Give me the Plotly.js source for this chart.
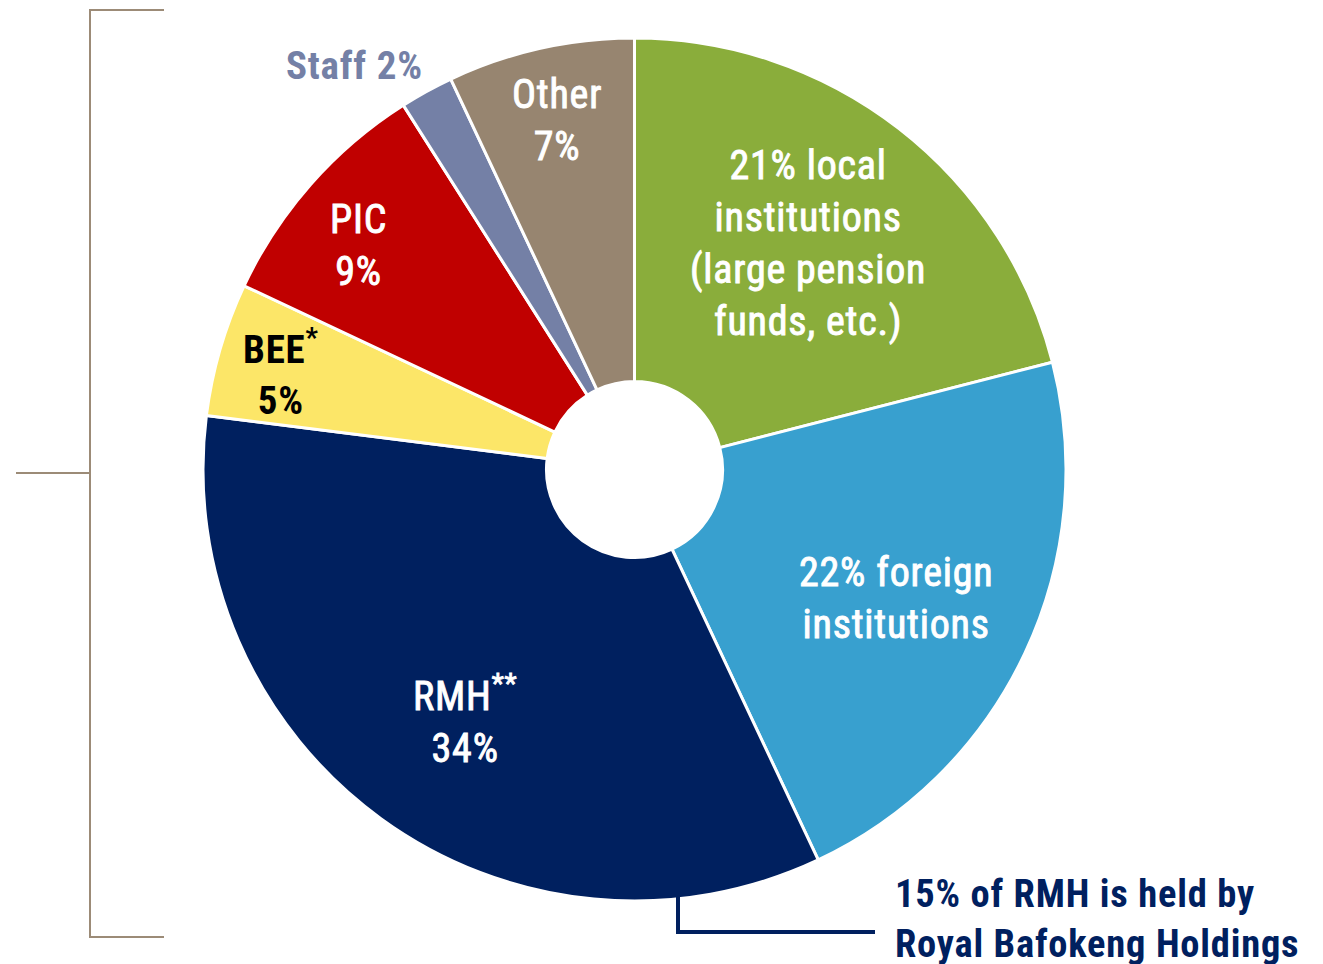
<!DOCTYPE html>
<html>
<head>
<meta charset="utf-8">
<script src="https://cdn.plot.ly/plotly-3.0.1.min.js"></script>
<style>html,body{margin:0;padding:0;background:#fff;}#chart{width:1323px;height:964px;}
.annotation-text{letter-spacing:0.8px;}
g.annotation[data-index="0"] text, g.annotation[data-index="1"] text,
g.annotation[data-index="2"] text, g.annotation[data-index="4"] text,
g.annotation[data-index="6"] text{stroke:#FFFFFF;stroke-width:0.9px;}</style>
</head>
<body>
<div id="chart"></div>
<script>
// ---- data ----
const categories = ["Local institutions", "Foreign institutions", "RMH", "BEE", "PIC", "Staff", "Other"];
const shares = [21, 22, 34, 5, 9, 2, 7];
const sliceColors = ["#8AAD3B", "#38A0CF", "#00205F", "#FCE668", "#C00000", "#7480A6", "#978570"];
const labelTexts = [
  "21% local<br>institutions<br>(large pension<br>funds, etc.)",
  "22% foreign<br>institutions",
  "RMH<sup>**</sup><br>34%",
  "BEE<sup>*</sup><br>5%",
  "PIC<br>9%",
  "Staff 2%",
  "Other<br>7%"
];
const noteText = "15% of RMH is held by<br>Royal Bafokeng Holdings";

// ---- layout helpers ----
const W = 1323, H = 964;
const FONT = "'Liberation Sans Narrow', 'Arial Narrow', 'Roboto Condensed', 'Liberation Sans', sans-serif";
const px = x => x / W;
const py = y => 1 - y / H;

// label placements (pixel centres), colours, weights
const labelPos = [[808, 243], [896, 598], [465, 719], [281, 373], [358, 245], [355, 66], [557, 120]];
const labelColor = ["#FFFFFF", "#FFFFFF", "#FFFFFF", "#000000", "#FFFFFF", "#7480A6", "#FFFFFF"];
const labelWeight = [400, 400, 400, 700, 400, 700, 400];

const annotations = labelTexts.map((t, i) => ({
  text: t,
  xref: "paper", yref: "paper",
  x: px(labelPos[i][0]), y: py(labelPos[i][1]),
  xanchor: "center", yanchor: "middle",
  showarrow: false,
  align: "center",
  font: { family: FONT, size: labelWeight[i] === 700 ? 39 : 40, color: labelColor[i], weight: labelWeight[i] }
}));
annotations.push({
  text: noteText,
  xref: "paper", yref: "paper",
  x: px(893), y: py(918),
  xanchor: "left", yanchor: "middle",
  showarrow: false, align: "left",
  font: { family: FONT, size: 38.5, color: "#00205F", weight: 700 }
});

const bracket = "#9C8B77";
const shapes = [
  { type: "line", xref: "paper", yref: "paper", x0: px(90), x1: px(90), y0: py(10), y1: py(937), line: { color: bracket, width: 2 } },
  { type: "line", xref: "paper", yref: "paper", x0: px(89), x1: px(164), y0: py(10), y1: py(10), line: { color: bracket, width: 2 } },
  { type: "line", xref: "paper", yref: "paper", x0: px(89), x1: px(164), y0: py(937), y1: py(937), line: { color: bracket, width: 2 } },
  { type: "line", xref: "paper", yref: "paper", x0: px(16), x1: px(91), y0: py(473), y1: py(473), line: { color: bracket, width: 2 } },
  { type: "path", xref: "paper", yref: "paper",
    path: `M ${px(678)} ${py(893)} L ${px(678)} ${py(932)} L ${px(875)} ${py(932)}`,
    line: { color: "#00205F", width: 4 } }
];

const trace = {
  type: "pie",
  labels: categories,
  values: shares,
  sort: false,
  direction: "clockwise",
  rotation: 0,
  hole: 0.204,
  textinfo: "none",
  hoverinfo: "none",
  marker: { colors: sliceColors, line: { color: "#FFFFFF", width: 3 } },
  domain: { x: [px(203), px(1066)], y: [py(901), py(38)] }
};

const layout = {
  width: W, height: H,
  margin: { l: 0, r: 0, t: 0, b: 0 },
  paper_bgcolor: "#FFFFFF",
  showlegend: false,
  annotations: annotations,
  shapes: shapes
};

Plotly.newPlot("chart", [trace], layout, { displayModeBar: false, staticPlot: true });
</script>
</body>
</html>
